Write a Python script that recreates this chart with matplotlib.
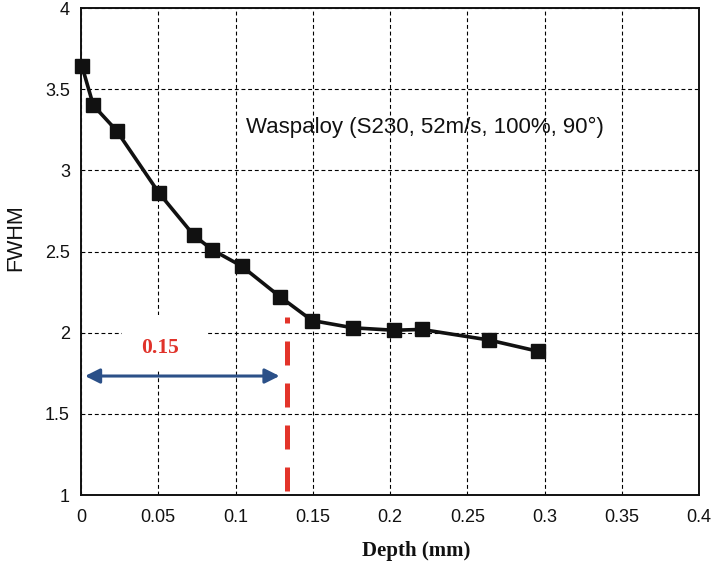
import numpy as np
import matplotlib
matplotlib.use("Agg")
import matplotlib.pyplot as plt
from matplotlib.patches import Rectangle

# FWHM vs depth
depth = [0.0007, 0.008, 0.023, 0.0505, 0.073, 0.085, 0.104, 0.129, 0.1495,
         0.176, 0.2025, 0.2205, 0.264, 0.296]
fwhm = [3.64, 3.40, 3.245, 2.86, 2.60, 2.51, 2.41, 2.22, 2.075,
        2.03, 2.015, 2.02, 1.955, 1.885]

xticks = [0, 0.05, 0.1, 0.15, 0.2, 0.25, 0.3, 0.35, 0.4]
xticklabels = ['0', '0.05', '0.1', '0.15', '0.2', '0.25', '0.3', '0.35', '0.4']
yticks = [1, 1.5, 2, 2.5, 3, 3.5, 4]
yticklabels = ['1', '1.5', '2', '2.5', '3', '3.5', '4']

cut_depth = 0.1333
cut_span = (1.024, 2.096)
arrow_span = (0.0026, 0.1285)
arrow_y = 1.733

plt.rcParams['font.family'] = ['Liberation Sans', 'DejaVu Sans']

fig = plt.figure(figsize=(7.13, 5.68), dpi=100)
ax = fig.add_axes([0.1136, 0.1285, 0.8668, 0.8574])

ax.set_axisbelow(True)
ax.grid(True, color='black', linestyle=(0, (3.5, 2.5)), linewidth=0.8)

ax.plot(depth, fwhm, color='#111111', linewidth=2.6, marker='s',
        markersize=10, clip_on=False, zorder=4)

# white patch behind the "0.15" label hides the grid there
ax.add_patch(Rectangle((0.0265, 1.763), 0.0557, 0.345, facecolor='white',
                       edgecolor='none', zorder=1))
ax.text(0.051, 1.905, '0.15', color='#E0322A', fontsize=15.5, fontweight='bold',
        family=['Liberation Serif', 'DejaVu Serif'], ha='center', va='center', zorder=5)

ax.annotate('', xy=(arrow_span[0], arrow_y), xytext=(arrow_span[1], arrow_y),
            arrowprops=dict(arrowstyle='<|-|>', color='#2B5088', lw=2.2,
                            mutation_scale=22, shrinkA=0, shrinkB=0), zorder=5)

ax.plot([cut_depth, cut_depth], cut_span, color='#E3342A', linewidth=3.6,
        dashes=(4.8, 3.6), solid_capstyle='butt', dash_capstyle='butt', zorder=3)

ax.text(0.107, 3.267, 'Waspaloy (S230, 52m/s, 100%, 90°)', fontsize=16,
        ha='left', va='center', color='#111111')

ax.set_xlim(0, 0.4)
ax.set_ylim(1, 4)
ax.set_xticks(xticks)
ax.set_xticklabels(xticklabels)
ax.set_yticks(yticks)
ax.set_yticklabels(yticklabels)
ax.tick_params(axis='both', labelsize=13, length=0, colors='#111111')
ax.tick_params(axis='x', pad=10)
ax.tick_params(axis='y', pad=8)
for s in ax.spines.values():
    s.set_linewidth(1.4)
    s.set_color('#111111')

fig.text(16 / 713, 1 - 238 / 568, 'FWHM', fontsize=15.5, rotation=90,
         ha='center', va='center', color='#111111')
fig.text(416 / 713, 1 - 551 / 568, 'Depth (mm)', fontsize=15, fontweight='bold',
         family=['Liberation Serif', 'DejaVu Serif'], ha='center', va='center',
         color='#111111')

fig.savefig('out.png', dpi=100)
